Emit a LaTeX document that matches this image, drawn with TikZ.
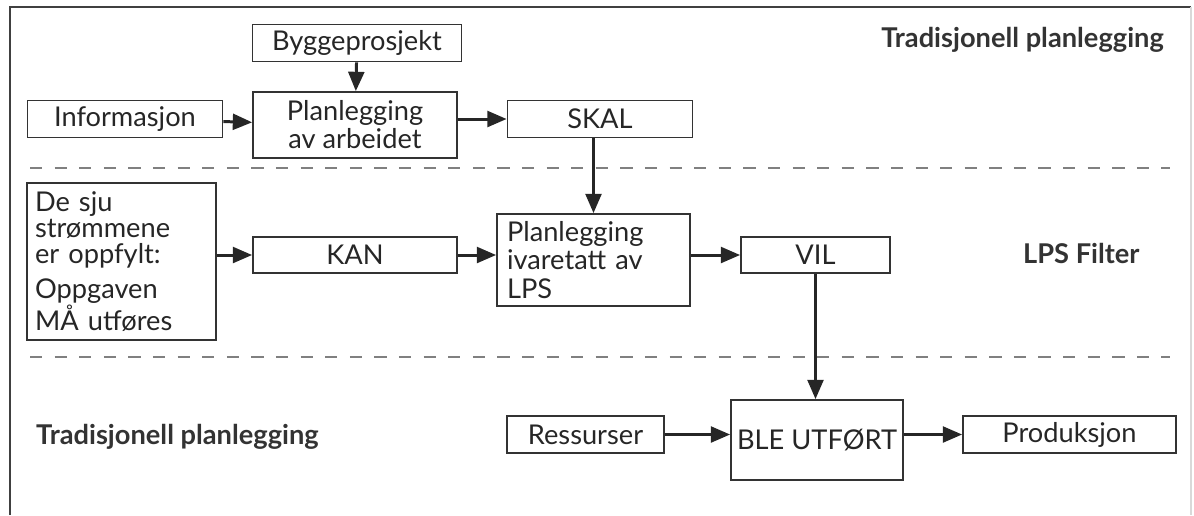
\documentclass[tikz,border=0pt]{standalone}
\usepackage{fontspec}
\setmainfont{Lato}
\usetikzlibrary{arrows.meta}

\begin{document}
\begin{tikzpicture} [x=0.02cm,y=-0.02cm,>={Triangle[length=11pt,width=9pt]},
		box/.style={draw=black!80,line width=1pt,inner sep=0pt,text=black!85,
			font=\fontsize{15.5}{16}\selectfont,align=center},
		flow/.style={->,draw=black!85,line width=1.7pt},
		sep line/.style={draw=black!50,line width=1.4pt,dash pattern=on 7pt off 7pt},
		head/.style={font=\fontsize{15.5}{16}\selectfont\bfseries,text=black!80}]

		\useasboundingbox (0,0) rectangle (1194,515);
		% frame
		\draw [black!75,line width=1.6pt] (10,515) -- (10,7) -- (1191,7);
		\draw [black!15,line width=0.6pt] (1191,7) -- (1191,515);

		% upper band
		\node [box, minimum width=4.18cm, minimum height=0.74cm] (bygg) at (357,43) {Byggeprosjekt};
		\node [box, minimum width=3.9cm, minimum height=0.74cm] (info) at (125,119) {Informasjon};
		\node [box, minimum width=4.08cm, minimum height=1.32cm] (plan-arb) at (355,125) {Planlegging\\av arbeidet};
		\node [box, minimum width=3.7cm, minimum height=0.74cm] (skal) at (600,119) {SKAL};
		\node [head, anchor=east] (head-top) at (1170,40) {Tradisjonell planlegging};

		\draw [sep line] (30,168) -- (1170,168);

		% LPS band
		\node [box, align=left, text width=3.46cm, inner xsep=0.16cm, minimum height=3.14cm,
			font=\fontsize{15.5}{14.9}\selectfont] (sju) at (121.5,261.5)
			{De sju\\strømmene\\er oppfylt:\\[5pt]Oppgaven\\MÅ utføres};
		\node [box, minimum width=4.08cm, minimum height=0.72cm] (kan) at (355,255) {KAN};
		\node [box, align=left, text width=3.46cm, inner xsep=0.2cm, minimum height=1.84cm] (plan-lps) at (593.5,260)
			{Planlegging\\ivaretatt av\\LPS};
		\node [box, minimum width=2.98cm, minimum height=0.72cm] (vil) at (815.5,255) {VIL};
		\node [head, anchor=west] (head-lps) at (1017,253) {LPS Filter};

		\draw [sep line] (30,357) -- (1170,357);

		% lower band
		\node [box, minimum width=3.14cm, minimum height=0.74cm] (ress) at (585.5,434.5) {Ressurser};
		\node [box, minimum width=3.44cm, minimum height=1.6cm] (utfort) at (817,440) {BLE UTFØRT};
		\node [box, minimum width=4.26cm, minimum height=0.74cm] (prod) at (1069.5,434.5) {Produksjon};
		\node [head, anchor=west] (head-bot) at (30,437) {Tradisjonell planlegging};

		% arrows
		\draw [flow] (bygg) -- (plan-arb);
		\draw [flow] (info) -- (plan-arb);
		\draw [flow] (plan-arb.east |- skal) -- (skal);
		\draw [flow] (skal.south -| plan-lps.north) -- (plan-lps.north);
		\draw [flow] (sju.east |- kan) -- (kan);
		\draw [flow] (kan.east) -- (kan.east -| plan-lps.west);
		\draw [flow] (plan-lps.east |- vil) -- (vil);
		\draw [flow] (vil.south) -- (vil.south |- utfort.north);
		\draw [flow] (ress.east) -- (ress.east -| utfort.west);
		\draw [flow] (utfort.east |- prod) -- (prod);
\end{tikzpicture}
\end{document}
